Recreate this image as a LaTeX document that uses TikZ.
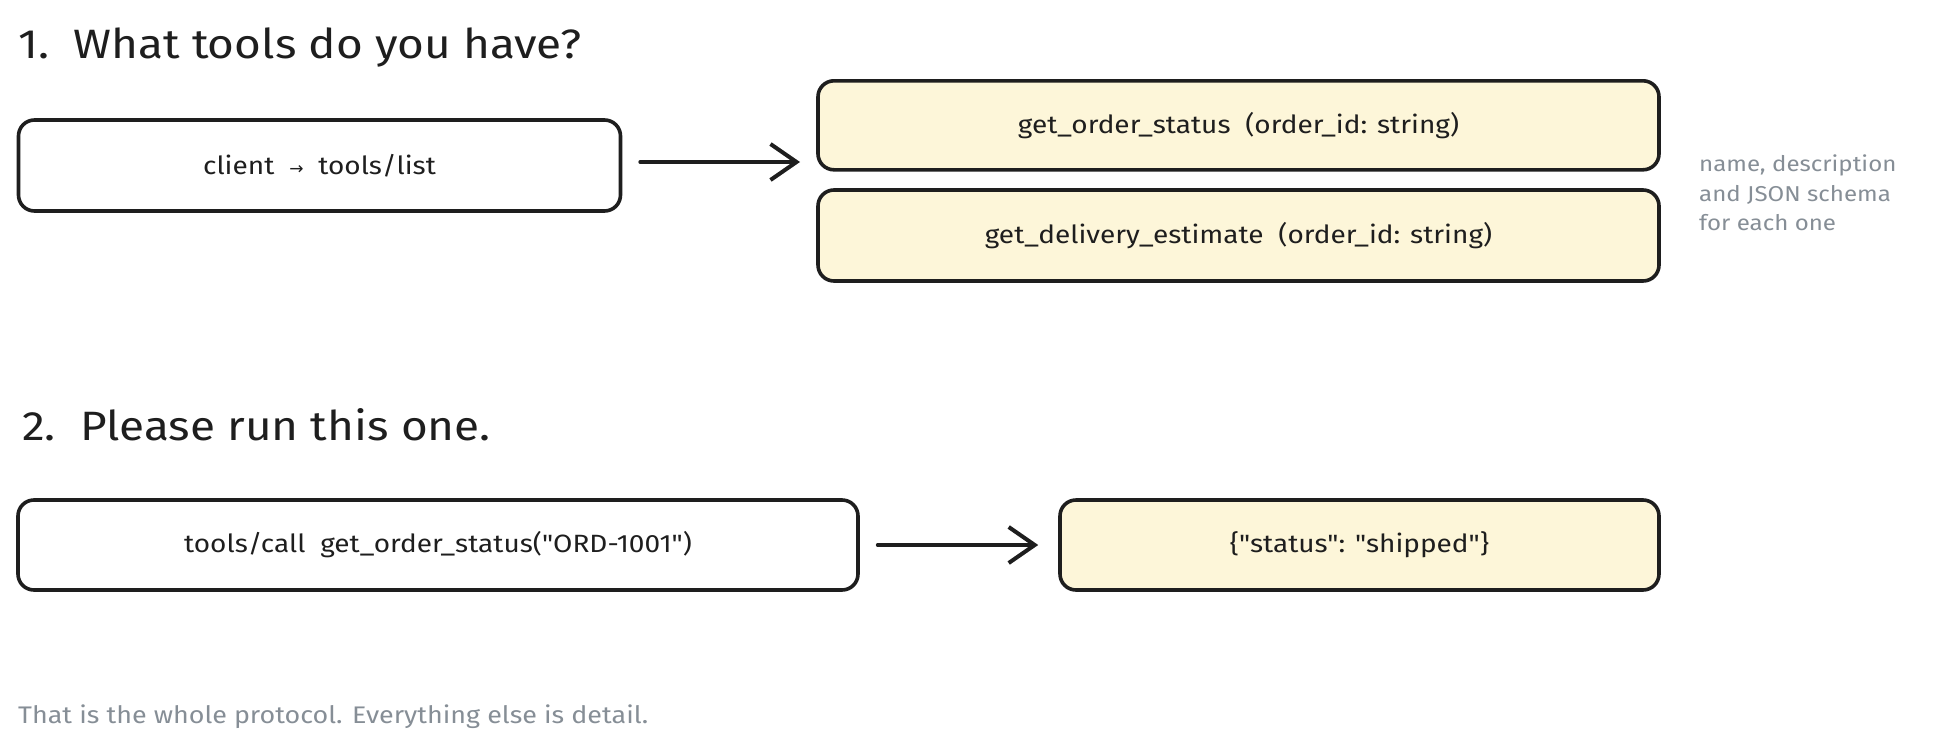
\documentclass[tikz,border=0pt]{standalone}
\usepackage{fontspec}
\setmainfont{Fira Sans}[FakeStretch=1.12, Ligatures=TeXOff]
\newfontfamily\symfont{DejaVu Sans}
\usetikzlibrary{arrows.meta}
\definecolor{ink}{HTML}{1E1E1E}
\definecolor{paper}{HTML}{FDF6D9}
\definecolor{notegray}{HTML}{868E96}
\begin{document}
\begin{tikzpicture}[x=1pt,y=-1pt,
  box/.style={draw=ink, line width=3.6pt, rounded corners=16pt, inner sep=0pt,
    text=ink, font=\fontsize{25}{30}\selectfont},
  plainbox/.style={box, fill=white},
  yellowbox/.style={box, fill=paper},
  title/.style={anchor=base west, inner sep=0pt, text=ink, font=\fontsize{41}{48}\selectfont},
  notetext/.style={inner sep=0pt, text=notegray, font=\fontsize{21.5}{29.5}\selectfont},
  foot/.style={inner sep=0pt, text=notegray, font=\fontsize{24}{29}\selectfont},
  arr/.style={draw=ink, line width=4pt, line cap=round,
    -{Straight Barb[length=26pt, width=36pt, line width=4pt]}}]
\useasboundingbox[fill=white] (0,0) rectangle (1944,750);

\node[title] (t1) at (18,58) {1.\ \ What tools do you have?};
\node[plainbox, minimum width=602pt, minimum height=91pt] (A) at (319.5,165.5)
  {client\ \ {\symfont\fontsize{17}{20}\selectfont →}\ \ tools/list};
\node[yellowbox, minimum width=841pt, minimum height=89pt] (B) at (1238.5,125.3)
  {get\_order\_status\ \ (order\_id: string)};
\node[yellowbox, minimum width=841pt, minimum height=91pt] (C) at (1238.5,235.5)
  {get\_delivery\_estimate\ \ (order\_id: string)};
\node[notetext, anchor=west, align=left] (N) at (1699,193)
  {name, description\\and JSON schema\\for each one};
\coordinate (t1end) at (800,162);
\draw[arr] ([xshift=18pt]A.east |- t1end) -- (t1end);

\node[title] (t2) at (22,440) {2.\ \ Please run this one.};
\node[plainbox, minimum width=840pt, minimum height=90pt] (D) at (438,545)
  {tools/call\ \ get\_order\_status("ORD-1001")};
\node[yellowbox, minimum width=599pt, minimum height=90pt] (E) at (1359.5,545)
  {\{"status": "shipped"\}};
\draw[arr] ([xshift=18pt]D.east) -- ([xshift=-20pt]E.west);

\node[foot, anchor=base west] (F) at (18,723)
  {That is the whole protocol. Everything else is detail.};
\end{tikzpicture}
\end{document}
